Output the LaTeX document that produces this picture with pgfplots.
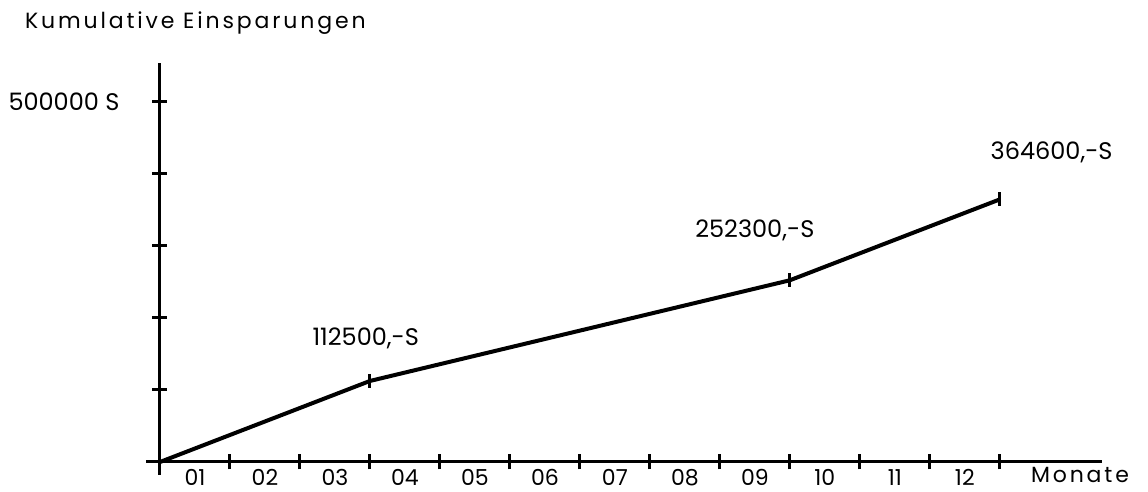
\documentclass[border=0pt]{standalone}
\usepackage{fontspec}
\setmainfont{Poppins}
\newfontfamily\spaced[LetterSpace=13]{Poppins}
\usepackage{pgfplots}
\pgfplotsset{compat=1.18}
\begin{document}
\begin{tikzpicture}
\useasboundingbox (-80pt,-15pt) rectangle (494pt,231pt);
\begin{axis}[
  anchor=origin, at={(0pt,0pt)},
  scale only axis, width=478pt, height=206pt,
  xmin=-0.2, xmax=13.46, ymin=-18000, ymax=554000,
  axis lines=middle,
  axis line style={-, line width=1.5pt},
  clip=false,
  scaled y ticks=false,
  hide obscured x ticks=false,
  xtick={0,1,2,3,4,5,6,7,8,9,10,11,12},
  x tick label as interval,
  xticklabels={01,02,03,04,05,06,07,08,09,10,11,12},
  ytick={100000,200000,300000,400000,500000},
  yticklabels={,,,,500000 S},
  tick align=center,
  major tick length=7.5pt,
  tick style={black, line width=1.5pt},
  xticklabel style={font=\fontsize{11}{12}\selectfont, anchor=north, yshift=3.5pt},
  yticklabel style={font=\fontsize{12}{14}\selectfont, anchor=east, xshift=-13pt},
]
\addplot[black, line width=2pt, mark=|, mark size=3.5pt, mark indices={2,3,4},
  mark options={line width=1.5pt}]
  coordinates {(0,0) (3,112500) (9,252300) (12,364600)};
\node[font=\fontsize{12}{14}\selectfont] at (axis cs:2.94,172200) {112500,-S};
\node[font=\fontsize{12}{14}\selectfont] at (axis cs:8.5,322200) {252300,-S};
\node[font=\fontsize{12}{14}\selectfont] at (axis cs:12.74,429200) {364600,-S};
\end{axis}
\node[anchor=west, font=\spaced\fontsize{11}{12}\selectfont] at (-71pt,219.5pt) {Kumulative Einsparungen};
\node[font=\spaced\fontsize{11}{12}\selectfont] at (460pt,-6.5pt) {Monate};
\end{tikzpicture}
\end{document}
